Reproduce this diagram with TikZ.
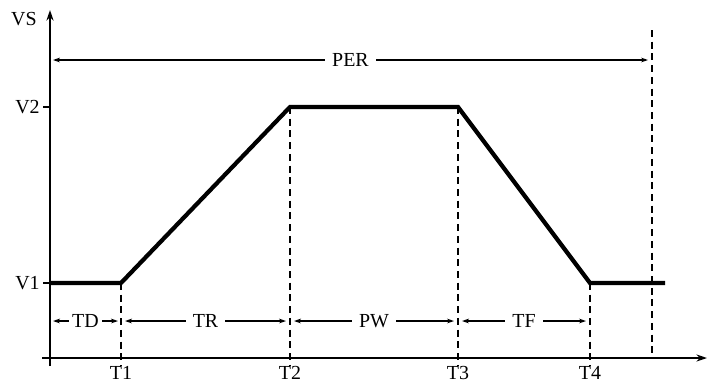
\documentclass[tikz,border=0pt]{standalone}
\usepackage{fontspec}
\setmainfont{Liberation Serif}
\usetikzlibrary{arrows.meta}

\begin{document}
\begin{tikzpicture}[
      x=0.03cm, y=-0.03cm,
      axis/.style={line width=1.6pt, -{Stealth[length=9pt,width=6pt]}},
      wave/.style={line width=3.6pt, line join=miter},
      guide/.style={line width=1.2pt, dash pattern=on 6pt off 4pt},
      dim/.style={line width=1pt, {Stealth[length=6pt,width=4pt]}-{Stealth[length=6pt,width=4pt]}},
      lbl/.style={font=\fontsize{17}{20}\selectfont, inner sep=1pt},
      dimlbl/.style={lbl, fill=white, inner sep=6pt}
    ]
      \useasboundingbox (0,0) rectangle (720,387);
      % points of the pulse
      \coordinate (o) at (50,358);
      \coordinate (p1) at (50,283);
      \coordinate (p2) at (121,283);
      \coordinate (p3) at (290,107);
      \coordinate (p4) at (458,107);
      \coordinate (p5) at (590,283);
      \coordinate (p6) at (665,283);
      % axes
      \draw[axis] (50,366) -- (50,10);
      \draw[axis] (42,358) -- (707,358);
      \draw[line width=1.2pt] (43,107) -- (50,107);
      \draw[line width=1.2pt] (43,283) -- (50,283);
      \node[lbl, anchor=east] (vs) at (38,19) {VS};
      \node[lbl, anchor=east] (v2) at (41,107) {V2};
      \node[lbl, anchor=east] (v1) at (41,283) {V1};
      % guides
      \coordinate (t1) at (121,366);
      \coordinate (t2) at (290,366);
      \coordinate (t3) at (458,366);
      \coordinate (t4) at (590,366);
      \draw[guide] (p2) -- (t1);
      \draw[guide] (p3) -- (t2);
      \draw[guide] (p4) -- (t3);
      \draw[guide] (p5) -- (t4);
      \draw[guide] (652,30) -- (652,356);
      \node[lbl, anchor=north, inner sep=0pt] (l1) at (121,366) {T1};
      \node[lbl, anchor=north, inner sep=0pt] (l2) at (290,366) {T2};
      \node[lbl, anchor=north, inner sep=0pt] (l3) at (458,366) {T3};
      \node[lbl, anchor=north, inner sep=0pt] (l4) at (590,366) {T4};
      % the pulse
      \draw[wave] (p1) -- (p2) -- (p3) -- (p4) -- (p5) -- (p6);
      % spans
      \draw[dim] (53,60) -- node[dimlbl] (per) {PER} (648,60);
      \draw[dim] (53,321) -- node[dimlbl, inner sep=3pt] (td) {TD} (118,321);
      \draw[dim] (125,321) -- node[dimlbl] (tr) {TR} (286,321);
      \draw[dim] (294,321) -- node[dimlbl] (pw) {PW} (454,321);
      \draw[dim] (462,321) -- node[dimlbl] (tf) {TF} (586,321);
    \end{tikzpicture}
\end{document}
